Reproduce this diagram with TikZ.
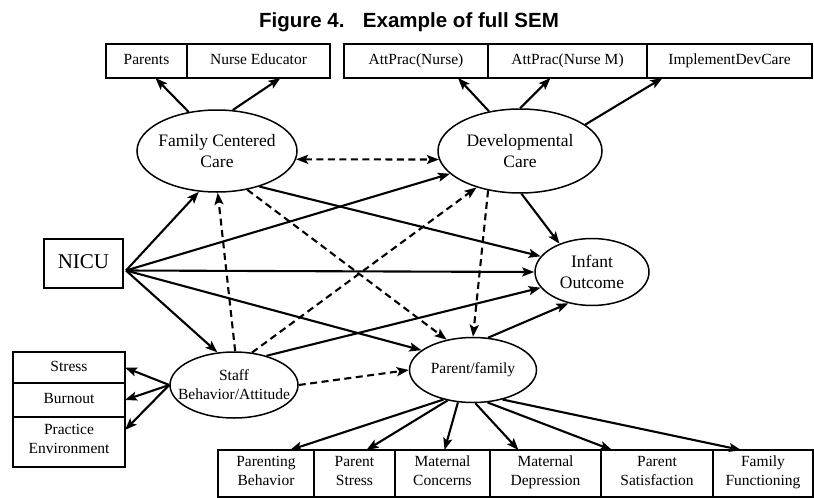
\documentclass[tikz,border=0pt]{standalone}
\usepackage{fontspec}
\setmainfont{Liberation Serif}
\newfontfamily\titlefont{Liberation Sans}
\usetikzlibrary{positioning,arrows.meta,shapes.geometric}

\tikzset{
  obs/.style={draw,rectangle,line width=1.6pt,inner sep=0pt,outer sep=0pt,align=center,
    font=\fontsize{15.5}{19}\selectfont,execute at end node=\strut},
  lat/.style={draw,ellipse,line width=1.5pt,inner sep=0pt,align=center,
    font=\fontsize{17.5}{21}\selectfont},
  reg/.style={line width=2.1pt,-{Stealth[length=12pt,width=9pt,inset=2.5pt]}},
  cov/.style={reg,dash pattern=on 7pt off 4.5pt},
  dcov/.style={cov,{Stealth[length=12pt,width=9pt,inset=2.5pt]}-{Stealth[length=12pt,width=9pt,inset=2.5pt]}}
}

\begin{document}
\begin{tikzpicture}[x=1pt,y=1pt]
	\useasboundingbox (0,0) rectangle (814,-498);
	\node[font=\fontsize{20.5}{24}\selectfont\titlefont\bfseries] (title) at (409,-22) {Figure 4.\hspace{0.9em}Example of full SEM};
	\node[obs,minimum width=81,minimum height=34] (Parents) at (146.5,-61) {Parents};
	\node[obs,minimum width=143,minimum height=34,right=0pt of Parents] (NurseEd) {Nurse Educator};
	\node[obs,minimum width=144,minimum height=34] (AttNurse) at (416,-61) {AttPrac(Nurse)};
	\node[obs,minimum width=159,minimum height=34,right=0pt of AttNurse] (AttNurseM) {AttPrac(Nurse M)};
	\node[obs,minimum width=165,minimum height=34,right=0pt of AttNurseM] (ImplDC) {ImplementDevCare};
	\node[lat,minimum width=160,minimum height=82,inner xsep=-3pt] (FCC) at (217,-151) {Family Centered\\Care};
	\node[lat,minimum width=164,minimum height=84] (DC) at (520,-151) {Developmental\\Care};
	\node[lat,minimum width=114,minimum height=67] (IO) at (592,-272) {Infant\\Outcome};
	\node[lat,minimum width=127,minimum height=65,font=\fontsize{15.5}{19}\selectfont] (PF) at (473,-370) {Parent/family};
	\node[lat,minimum width=128,minimum height=66,inner xsep=-12pt,font=\fontsize{15.5}{19}\selectfont] (Staff) at (234,-385) {Staff\\Behavior/Attitude};
	\node[obs,minimum width=79,minimum height=49,font=\fontsize{21}{25}\selectfont] (NICU) at (83.5,-263.5) {NICU};
	\node[obs,minimum width=112,minimum height=31] (Stress) at (69,-367.5) {Stress};
	\node[obs,minimum width=112,minimum height=34,below=0pt of Stress] (Burnout) {Burnout};
	\node[obs,minimum width=112,minimum height=50,below=0pt of Burnout] (PracEnv) {Practice\\Environment};
	\node[obs,minimum width=96,minimum height=47] (ParBeh) at (266,-473.5) {Parenting\\Behavior};
	\node[obs,minimum width=81,minimum height=47,right=0pt of ParBeh] (ParStress) {Parent\\Stress};
	\node[obs,minimum width=95,minimum height=47,right=0pt of ParStress] (MatConc) {Maternal\\Concerns};
	\node[obs,minimum width=111,minimum height=47,right=0pt of MatConc] (MatDep) {Maternal\\Depression};
	\node[obs,minimum width=112,minimum height=47,right=0pt of MatDep] (ParSat) {Parent\\Satisfaction};
	\node[obs,minimum width=100,minimum height=47,right=0pt of ParSat] (FamFunc) {Family\\Functioning};
	\coordinate (nicu) at ([shift={(3,-7)}]NICU.east);
	\draw[reg] (FCC.126) -- ([xshift=9]Parents.south);
	\draw[reg] (FCC.69) -- ([xshift=22]NurseEd.south);
	\draw[reg] (DC.128) -- ([xshift=42]AttNurse.south);
	\draw[reg] (DC.90) -- ([xshift=-17]AttNurseM.south);
	\draw[reg] (DC.22) -- ([xshift=-67]ImplDC.south);
	\draw[dcov] (FCC.-6) -- (DC.-174);
	\draw[reg] (nicu) -- (FCC.246);
	\draw[reg] (nicu) -- (DC.198);
	\draw[reg] (nicu) -- (IO.180);
	\draw[reg] (nicu) -- (PF.159);
	\draw[reg] (nicu) -- (Staff.117);
	\draw[reg] (FCC.-40) -- (IO.163);
	\draw[reg] (DC.-88) -- (IO.139);
	\draw[reg] (Staff.42) -- (IO.197);
	\draw[reg] (PF.65) -- (IO.-127);
	\draw[cov] (Staff.88) -- (FCC.-89);
	\draw[cov] (Staff.61) -- (DC.-140);
	\draw[cov] (FCC.-52) -- (PF.131);
	\draw[cov] (DC.-129) -- (PF.90);
	\draw[cov] (Staff.0) -- (PF.180);
	\draw[reg] (Staff.180) -- (Stress.east);
	\draw[reg] (Staff.180) -- (Burnout.east);
	\draw[reg] (Staff.180) -- ([yshift=12]PracEnv.east);
	\draw[reg] (PF.-135) -- ([xshift=24]ParBeh.north);
	\draw[reg] (PF.-130) -- ([xshift=12]ParStress.north);
	\draw[reg] (PF.-115) -- ([xshift=2]MatConc.north);
	\draw[reg] (PF.-86) -- ([xshift=-27]MatDep.north);
	\draw[reg] (PF.-66) -- ([xshift=-45]ParSat.north);
	\draw[reg] (PF.-45) -- ([xshift=-22]FamFunc.north);
\end{tikzpicture}
\end{document}
